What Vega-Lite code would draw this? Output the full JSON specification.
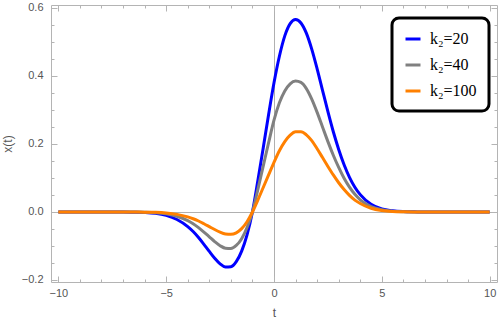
{
  "$schema": "https://vega.github.io/schema/vega-lite/v6.json",
  "width": 446,
  "height": 277,
  "autosize": {"type": "none"},
  "padding": {"left": 51, "top": 5, "right": 1, "bottom": 38},
  "background": "white",
  "config": {
    "view": {"stroke": null},
    "font": "Liberation Sans",
    "legend": {"strokeWidth": 3}
  },
  "data": {
    "values": [
      {"k":"20","t":-10,"x":0},{"k":"20","t":-9,"x":0},{"k":"20","t":-8,"x":0},{"k":"20","t":-7,"x":-0.0002},{"k":"20","t":-6.5,"x":-0.0006},{"k":"20","t":-6,"x":-0.0015},{"k":"20","t":-5.5,"x":-0.004},{"k":"20","t":-5,"x":-0.01},{"k":"20","t":-4.5,"x":-0.022},{"k":"20","t":-4,"x":-0.043},{"k":"20","t":-3.75,"x":-0.0575},{"k":"20","t":-3.5,"x":-0.075},{"k":"20","t":-3.25,"x":-0.095},{"k":"20","t":-3,"x":-0.116},{"k":"20","t":-2.75,"x":-0.136},{"k":"20","t":-2.5,"x":-0.1525},{"k":"20","t":-2.25,"x":-0.162},{"k":"20","t":-2,"x":-0.161},{"k":"20","t":-1.75,"x":-0.146},{"k":"20","t":-1.5,"x":-0.115},{"k":"20","t":-1.25,"x":-0.067},{"k":"20","t":-1,"x":0},{"k":"20","t":-0.75,"x":0.092},{"k":"20","t":-0.5,"x":0.188},{"k":"20","t":-0.25,"x":0.287},{"k":"20","t":0,"x":0.38},{"k":"20","t":0.25,"x":0.458},{"k":"20","t":0.5,"x":0.518},{"k":"20","t":0.75,"x":0.554},{"k":"20","t":1,"x":0.566},{"k":"20","t":1.25,"x":0.556},{"k":"20","t":1.5,"x":0.526},{"k":"20","t":1.75,"x":0.479},{"k":"20","t":2,"x":0.421},{"k":"20","t":2.25,"x":0.358},{"k":"20","t":2.5,"x":0.295},{"k":"20","t":2.75,"x":0.236},{"k":"20","t":3,"x":0.184},{"k":"20","t":3.25,"x":0.139},{"k":"20","t":3.5,"x":0.102},{"k":"20","t":3.75,"x":0.073},{"k":"20","t":4,"x":0.051},{"k":"20","t":4.5,"x":0.023},{"k":"20","t":5,"x":0.009},{"k":"20","t":5.5,"x":0.0035},{"k":"20","t":6,"x":0.0012},{"k":"20","t":6.5,"x":0.0004},{"k":"20","t":7,"x":0.0001},{"k":"20","t":8,"x":0},{"k":"20","t":9,"x":0},{"k":"20","t":10,"x":0},
      {"k":"40","t":-10,"x":0},{"k":"40","t":-9,"x":0},{"k":"40","t":-8,"x":0},{"k":"40","t":-7,"x":0},{"k":"40","t":-6.5,"x":-0.0002},{"k":"40","t":-6,"x":-0.0007},{"k":"40","t":-5.5,"x":-0.002},{"k":"40","t":-5,"x":-0.0055},{"k":"40","t":-4.5,"x":-0.0125},{"k":"40","t":-4,"x":-0.0255},{"k":"40","t":-3.75,"x":-0.0345},{"k":"40","t":-3.5,"x":-0.046},{"k":"40","t":-3.25,"x":-0.059},{"k":"40","t":-3,"x":-0.073},{"k":"40","t":-2.75,"x":-0.087},{"k":"40","t":-2.5,"x":-0.099},{"k":"40","t":-2.25,"x":-0.1065},{"k":"40","t":-2,"x":-0.1072},{"k":"40","t":-1.75,"x":-0.0985},{"k":"40","t":-1.5,"x":-0.0785},{"k":"40","t":-1.25,"x":-0.0455},{"k":"40","t":-1,"x":0},{"k":"40","t":-0.75,"x":0.066},{"k":"40","t":-0.5,"x":0.135},{"k":"40","t":-0.25,"x":0.204},{"k":"40","t":0,"x":0.27},{"k":"40","t":0.25,"x":0.321},{"k":"40","t":0.5,"x":0.356},{"k":"40","t":0.75,"x":0.377},{"k":"40","t":1,"x":0.385},{"k":"40","t":1.25,"x":0.381},{"k":"40","t":1.5,"x":0.363},{"k":"40","t":1.75,"x":0.332},{"k":"40","t":2,"x":0.293},{"k":"40","t":2.25,"x":0.25},{"k":"40","t":2.5,"x":0.207},{"k":"40","t":2.75,"x":0.167},{"k":"40","t":3,"x":0.131},{"k":"40","t":3.25,"x":0.099},{"k":"40","t":3.5,"x":0.073},{"k":"40","t":3.75,"x":0.052},{"k":"40","t":4,"x":0.036},{"k":"40","t":4.5,"x":0.016},{"k":"40","t":5,"x":0.0065},{"k":"40","t":5.5,"x":0.0024},{"k":"40","t":6,"x":0.0008},{"k":"40","t":6.5,"x":0.0002},{"k":"40","t":7,"x":0},{"k":"40","t":8,"x":0},{"k":"40","t":9,"x":0},{"k":"40","t":10,"x":0},
      {"k":"100","t":-10,"x":0},{"k":"100","t":-9,"x":0},{"k":"100","t":-8,"x":0},{"k":"100","t":-7,"x":0},{"k":"100","t":-6.5,"x":-0.0001},{"k":"100","t":-6,"x":-0.0004},{"k":"100","t":-5.5,"x":-0.0011},{"k":"100","t":-5,"x":-0.003},{"k":"100","t":-4.5,"x":-0.007},{"k":"100","t":-4,"x":-0.0145},{"k":"100","t":-3.75,"x":-0.0198},{"k":"100","t":-3.5,"x":-0.0265},{"k":"100","t":-3.25,"x":-0.0345},{"k":"100","t":-3,"x":-0.043},{"k":"100","t":-2.75,"x":-0.0516},{"k":"100","t":-2.5,"x":-0.0592},{"k":"100","t":-2.25,"x":-0.0645},{"k":"100","t":-2,"x":-0.0658},{"k":"100","t":-1.75,"x":-0.0612},{"k":"100","t":-1.5,"x":-0.049},{"k":"100","t":-1.25,"x":-0.0286},{"k":"100","t":-1,"x":0},{"k":"100","t":-0.75,"x":0.035},{"k":"100","t":-0.5,"x":0.072},{"k":"100","t":-0.25,"x":0.109},{"k":"100","t":0,"x":0.146},{"k":"100","t":0.25,"x":0.18},{"k":"100","t":0.5,"x":0.207},{"k":"100","t":0.75,"x":0.226},{"k":"100","t":1,"x":0.236},{"k":"100","t":1.25,"x":0.236},{"k":"100","t":1.5,"x":0.227},{"k":"100","t":1.75,"x":0.21},{"k":"100","t":2,"x":0.186},{"k":"100","t":2.25,"x":0.16},{"k":"100","t":2.5,"x":0.134},{"k":"100","t":2.75,"x":0.109},{"k":"100","t":3,"x":0.086},{"k":"100","t":3.25,"x":0.066},{"k":"100","t":3.5,"x":0.049},{"k":"100","t":3.75,"x":0.035},{"k":"100","t":4,"x":0.025},{"k":"100","t":4.5,"x":0.011},{"k":"100","t":5,"x":0.0045},{"k":"100","t":5.5,"x":0.0016},{"k":"100","t":6,"x":0.0005},{"k":"100","t":6.5,"x":0.0001},{"k":"100","t":7,"x":0},{"k":"100","t":8,"x":0},{"k":"100","t":9,"x":0},{"k":"100","t":10,"x":0}
    ]
  },
  "layer": [
    {
      "mark": {"type": "line", "strokeWidth": 3, "interpolate": "monotone"},
      "encoding": {
        "x": {
          "field": "t", "type": "quantitative",
          "scale": {"domain": [-10.34, 10.34], "nice": false, "zero": false},
          "axis": {
            "orient": "bottom", "title": "t",
            "values": [-10,-9,-8,-7,-6,-5,-4,-3,-2,-1,0,1,2,3,4,5,6,7,8,9,10],
            "format": "d",
            "labelExpr": "datum.value % 5 == 0 ? datum.label : ''",
            "tickSize": {"condition": {"test": "datum.value % 5 == 0", "value": -6}, "value": -3},
            "grid": true, "gridColor": "#b0b0b0",
            "gridOpacity": {"condition": {"test": "datum.value == 0", "value": 1}, "value": 0},
            "domainColor": "#b4b4b4", "tickColor": "#b4b4b4",
            "labelColor": "#555555", "labelFontSize": 11, "labelPadding": 11,
            "labelFlush": false, "labelOverlap": false,
            "titleColor": "#555555", "titleFontSize": 12, "titleFontWeight": "normal", "titlePadding": 6
          }
        },
        "y": {
          "field": "x", "type": "quantitative",
          "scale": {"domain": [-0.2059, 0.6088], "nice": false, "zero": false},
          "axis": {
            "orient": "left", "title": "x(t)",
            "values": [-0.2,-0.15,-0.1,-0.05,0,0.05,0.1,0.15,0.2,0.25,0.3,0.35,0.4,0.45,0.5,0.55,0.6],
            "labelExpr": "abs(round(datum.value*100)) % 20 == 0 ? format(datum.value, '.1f') : ''",
            "tickSize": {"condition": {"test": "abs(round(datum.value*100)) % 20 == 0", "value": -6}, "value": -3},
            "grid": true, "gridColor": "#b0b0b0",
            "gridOpacity": {"condition": {"test": "abs(datum.value) < 0.000001", "value": 1}, "value": 0},
            "domainColor": "#b4b4b4", "tickColor": "#b4b4b4",
            "labelColor": "#555555", "labelFontSize": 11, "labelPadding": 14,
            "labelFlush": false, "labelOverlap": false,
            "titleColor": "#555555", "titleFontSize": 12, "titleFontWeight": "normal", "titlePadding": 7
          }
        },
        "color": {
          "field": "k", "type": "nominal",
          "scale": {"domain": ["20", "40", "100"], "range": ["#0000ff", "#808080", "#ff8000"]},
          "legend": {
            "title": null, "orient": "none", "legendX": 341, "legendY": 13,
            "symbolType": "stroke", "symbolStrokeWidth": 3, "symbolSize": 225,
            "labelFont": "Liberation Serif", "labelFontSize": 16, "labelColor": "black",
            "labelExpr": "'k₂=' + datum.label",
            "strokeColor": "black", "fillColor": "white", "cornerRadius": 7,
            "padding": 12, "rowPadding": 9, "labelOffset": 8
          }
        }
      }
    },
    {
      "mark": {"type": "point", "opacity": 0},
      "encoding": {
        "x": {
          "field": "t", "type": "quantitative",
          "scale": {"domain": [-10.34, 10.34], "nice": false, "zero": false},
          "axis": {
            "orient": "top", "title": null, "labels": false, "grid": false,
            "values": [-10,-9,-8,-7,-6,-5,-4,-3,-2,-1,0,1,2,3,4,5,6,7,8,9,10],
            "tickSize": {"condition": {"test": "datum.value % 5 == 0", "value": -6}, "value": -3},
            "domainColor": "#b4b4b4", "tickColor": "#b4b4b4"
          }
        },
        "y": {
          "field": "x", "type": "quantitative",
          "scale": {"domain": [-0.2059, 0.6088], "nice": false, "zero": false},
          "axis": {
            "orient": "right", "title": null, "labels": false, "grid": false,
            "values": [-0.2,-0.15,-0.1,-0.05,0,0.05,0.1,0.15,0.2,0.25,0.3,0.35,0.4,0.45,0.5,0.55,0.6],
            "tickSize": {"condition": {"test": "abs(round(datum.value*100)) % 20 == 0", "value": -6}, "value": -3},
            "domainColor": "#b4b4b4", "tickColor": "#b4b4b4"
          }
        }
      }
    }
  ],
  "resolve": {"axis": {"x": "independent", "y": "independent"}}
}
